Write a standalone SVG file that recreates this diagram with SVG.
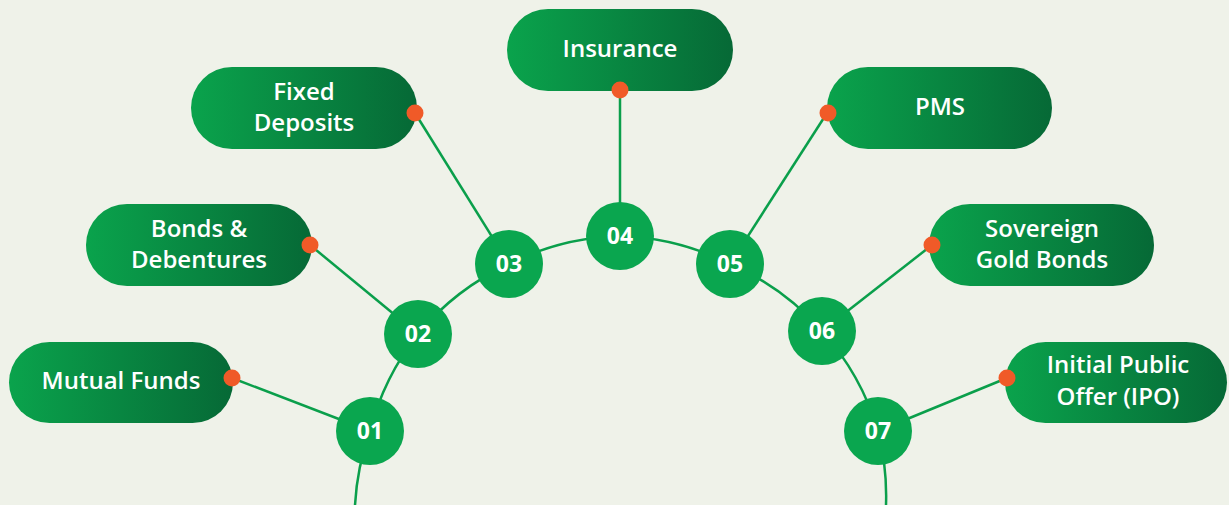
<svg xmlns="http://www.w3.org/2000/svg" width="1229" height="505" viewBox="0 0 1229 505">
<defs>
<linearGradient id="pg" x1="0" y1="0" x2="1" y2="0">
<stop offset="0" stop-color="#0aa34c"/>
<stop offset="1" stop-color="#066936"/>
</linearGradient>
</defs>
<style>
.pill{fill:url(#pg)}
.lbl{font-family:"Open Sans","Noto Sans",sans-serif;font-weight:600;font-size:24px;fill:#ffffff;text-anchor:middle}
.num{font-family:"Open Sans","Noto Sans",sans-serif;font-weight:700;font-size:23px;fill:#ffffff;text-anchor:middle}
.circ{fill:#0aa64f}
.dot{fill:#f05a28}
.ln{stroke:#0a9f4b;stroke-width:2.5;fill:none}
</style>
<rect width="1229" height="505" fill="#eff2e9"/>
<g id="connectors">
<path class="ln" d="M355 505 A262 262 0 0 1 370 431 A262 262 0 0 1 418 334 A262 262 0 0 1 509 264 A262 262 0 0 1 620 236 A262 262 0 0 1 730 264 A262 262 0 0 1 822 331 A262 262 0 0 1 878 431 A262 262 0 0 1 886 505"/>
<line class="ln" x1="232" y1="378" x2="370" y2="431"/>
<line class="ln" x1="310" y1="245" x2="418" y2="334"/>
<line class="ln" x1="415" y1="113" x2="509" y2="264"/>
<line class="ln" x1="620" y1="90" x2="620" y2="236"/>
<line class="ln" x1="827" y1="113" x2="730" y2="264"/>
<line class="ln" x1="932" y1="245" x2="822" y2="331"/>
<line class="ln" x1="1007" y1="378" x2="878" y2="431"/>
</g>
<g id="c01"><circle class="circ" cx="370" cy="431" r="34"/><text class="num" x="370" y="439">01</text></g>
<g id="c02"><circle class="circ" cx="418" cy="334" r="34"/><text class="num" x="418" y="342">02</text></g>
<g id="c03"><circle class="circ" cx="509" cy="264" r="34"/><text class="num" x="509" y="272">03</text></g>
<g id="c04"><circle class="circ" cx="620" cy="236" r="34"/><text class="num" x="620" y="244">04</text></g>
<g id="c05"><circle class="circ" cx="730" cy="264" r="34"/><text class="num" x="730" y="272">05</text></g>
<g id="c06"><circle class="circ" cx="822" cy="331" r="34"/><text class="num" x="822" y="339">06</text></g>
<g id="c07"><circle class="circ" cx="878" cy="431" r="34"/><text class="num" x="878" y="439">07</text></g>
<g id="mutual-funds"><rect class="pill" x="9" y="342" width="224" height="81" rx="40.5"/><text class="lbl" x="121" y="389">Mutual Funds</text><circle class="dot" cx="232" cy="378" r="8.5"/></g>
<g id="bonds"><rect class="pill" x="86" y="204" width="226" height="82" rx="41"/><text class="lbl" x="199" y="237">Bonds &amp;</text><text class="lbl" x="199" y="268">Debentures</text><circle class="dot" cx="310" cy="245" r="8.5"/></g>
<g id="fixed-deposits"><rect class="pill" x="191" y="67" width="226" height="82" rx="41"/><text class="lbl" x="304" y="100">Fixed</text><text class="lbl" x="304" y="131">Deposits</text><circle class="dot" cx="415" cy="113" r="8.5"/></g>
<g id="insurance"><rect class="pill" x="507" y="9" width="226" height="82" rx="41"/><text class="lbl" x="620" y="57">Insurance</text><circle class="dot" cx="620" cy="90" r="8.5"/></g>
<g id="pms"><rect class="pill" x="827" y="67" width="225" height="82" rx="41"/><text class="lbl" x="940" y="115">PMS</text><circle class="dot" cx="828" cy="113" r="8.5"/></g>
<g id="sgb"><rect class="pill" x="929" y="204" width="225" height="82" rx="41"/><text class="lbl" x="1042" y="237">Sovereign</text><text class="lbl" x="1042" y="268">Gold Bonds</text><circle class="dot" cx="932" cy="245" r="8.5"/></g>
<g id="ipo"><rect class="pill" x="1005" y="342" width="222" height="81" rx="40.5"/><text class="lbl" x="1118" y="373">Initial Public</text><text class="lbl" x="1118" y="405">Offer (IPO)</text><circle class="dot" cx="1007" cy="378" r="8.5"/></g>
</svg>
